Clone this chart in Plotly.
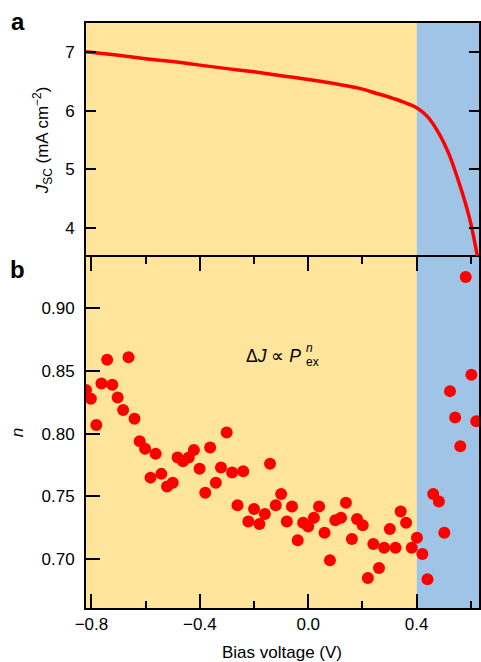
import plotly.graph_objects as go

# ---------------- data ----------------
# Panel a: short-circuit current density vs bias voltage
jsc_voltage = [-0.82, -0.70, -0.60, -0.50, -0.40, -0.30, -0.20, -0.10, 0.00, 0.10,
               0.20, 0.25, 0.30, 0.35, 0.40, 0.44, 0.48, 0.52, 0.55, 0.58, 0.60, 0.624]
jsc_values = [7.01, 6.95, 6.89, 6.84, 6.78, 6.72, 6.665, 6.60, 6.535, 6.46,
              6.37, 6.30, 6.23, 6.15, 6.05, 5.90, 5.63, 5.25, 4.86, 4.42, 4.07, 3.52]

# Panel b: power-law exponent n vs bias voltage
n_voltage = [-0.820, -0.802, -0.782, -0.763, -0.742, -0.723, -0.703, -0.683, -0.663, -0.641,
             -0.622, -0.602, -0.582, -0.563, -0.542, -0.521, -0.500, -0.482, -0.462, -0.441,
             -0.422, -0.401, -0.380, -0.362, -0.341, -0.322, -0.301, -0.281, -0.261, -0.240,
             -0.221, -0.200, -0.180, -0.160, -0.141, -0.120, -0.100, -0.079, -0.060, -0.039,
             -0.019, 0.000, 0.021, 0.040, 0.060, 0.080, 0.100, 0.121, 0.139, 0.161,
             0.180, 0.201, 0.220, 0.240, 0.261, 0.280, 0.301, 0.322, 0.341, 0.361,
             0.382, 0.401, 0.421, 0.440, 0.461, 0.482, 0.502, 0.523, 0.542, 0.561,
             0.581, 0.602, 0.620]
n_values = [0.835, 0.828, 0.807, 0.840, 0.859, 0.839, 0.829, 0.819, 0.861, 0.812,
            0.794, 0.788, 0.765, 0.784, 0.768, 0.758, 0.761, 0.781, 0.778, 0.781,
            0.787, 0.772, 0.753, 0.789, 0.761, 0.773, 0.801, 0.769, 0.743, 0.770,
            0.730, 0.740, 0.728, 0.736, 0.776, 0.743, 0.752, 0.730, 0.742, 0.715,
            0.729, 0.726, 0.733, 0.742, 0.721, 0.699, 0.731, 0.733, 0.745, 0.716,
            0.732, 0.727, 0.685, 0.712, 0.693, 0.709, 0.724, 0.709, 0.738, 0.729,
            0.709, 0.717, 0.704, 0.684, 0.752, 0.746, 0.721, 0.834, 0.813, 0.790,
            0.925, 0.847, 0.810]

# shaded voltage regions
region_edges = [-0.82, 0.40, 0.63]
region_colors = ["#FEE59B", "#A0C4E6"]

x_range = [-0.82, 0.63]
jsc_range = [3.5, 7.5]
n_range = [0.661, 0.941]
jsc_ticks = [4, 5, 6, 7]
n_ticks = [0.70, 0.75, 0.80, 0.85, 0.90]

# ---------------- figure ----------------
W, H = 481, 662
ML, MR, MT, MB = 86, 0, 23, 54
FONT = "Liberation Sans, Arial, Helvetica, sans-serif"

fig = go.Figure()

fig.add_trace(go.Scatter(x=jsc_voltage, y=jsc_values, mode="lines",
                         line=dict(color="#FF0000", width=3.5, shape="spline", smoothing=0.6),
                         xaxis="x2", yaxis="y2", showlegend=False, hoverinfo="skip"))

fig.add_trace(go.Scatter(x=n_voltage, y=n_values, mode="markers",
                         marker=dict(color="#FF0000", size=12, line=dict(width=0)),
                         xaxis="x", yaxis="y", showlegend=False, hoverinfo="skip"))

for i, col in enumerate(region_colors):
    fig.add_shape(type="rect", xref="x", yref="paper",
                  x0=region_edges[i], x1=region_edges[i + 1], y0=0, y1=1,
                  fillcolor=col, line=dict(width=0), layer="below")

axis_common = dict(showgrid=False, zeroline=False, linecolor="black", linewidth=2,
                   tickcolor="black", tickwidth=2, ticks="inside",
                   tickfont=dict(family=FONT, size=17, color="black"))

fig.update_layout(
    width=W, height=H,
    margin=dict(l=ML, r=MR, t=MT, b=MB, pad=0),
    paper_bgcolor="white", plot_bgcolor="rgba(0,0,0,0)",
    font=dict(family=FONT, size=17, color="black"),
    xaxis=dict(**axis_common, range=x_range, domain=[0, 1], anchor="y",
               tickmode="linear", tick0=-0.8, dtick=0.4, ticklen=14, tickformat=".1f",
               showline=True, mirror="ticks", ticklabelstandoff=0,
               minor=dict(ticks="inside", tick0=-0.8, dtick=0.2, ticklen=7,
                          tickwidth=2, tickcolor="black")),
    yaxis=dict(**axis_common, range=n_range, domain=[0, 0.6], anchor="x",
               tickmode="array", tickvals=n_ticks, tickformat=".2f", ticklen=14,
               showline=True, mirror=True, ticklabelstandoff=6),
    xaxis2=dict(**{k: v for k, v in axis_common.items() if k != "ticks"}, ticks="",
                range=x_range, domain=[0, 1], anchor="y2", matches="x", side="top",
                showticklabels=False, showline=True, mirror=False),
    yaxis2=dict(**axis_common, range=jsc_range, domain=[0.6, 1], anchor="x2",
                tickmode="array", tickvals=jsc_ticks, ticklen=10,
                showline=True, mirror="ticks", ticklabelstandoff=6),
)

PW = W - ML - MR
PH = H - MT - MB


def px_x(px):
    return (px - ML) / PW


def px_y(py):
    return (H - MB - py) / PH


ann = [
    dict(text="<b>a</b>", x=px_x(18), y=px_y(21), font=dict(size=24)),
    dict(text="<b>b</b>", x=px_x(17.5), y=px_y(269), font=dict(size=24)),
    dict(text="Bias voltage (V)", x=px_x(283), y=px_y(652), font=dict(size=17)),
    dict(text="<i>J</i><sub>SC</sub> (mA cm<sup>\u22122</sup>)", x=px_x(43), y=px_y(140),
         textangle=-90, font=dict(size=17)),
    dict(text="<i>n</i>", x=px_x(17), y=px_y(433), textangle=-90, font=dict(size=17)),
    dict(text="\u0394<i>J</i> \u221d <i>P</i>", x=px_x(304), y=px_y(356), xanchor="right",
         font=dict(size=17.5)),
    dict(text="<i>n</i>", x=px_x(305), y=px_y(348), xanchor="left", font=dict(size=12)),
    dict(text="ex", x=px_x(305), y=px_y(362), xanchor="left", font=dict(size=12)),
]
for a in ann:
    f = a.pop("font")
    base = dict(xref="paper", yref="paper", showarrow=False, xanchor="center",
                yanchor="middle")
    base.update(a)
    base["font"] = dict(family=FONT, color="black", **f)
    fig.add_annotation(**base)

fig.write_html("out.html", config={"displayModeBar": False},
               post_script="document.body.style.margin='0px';document.body.style.overflow='hidden';")
